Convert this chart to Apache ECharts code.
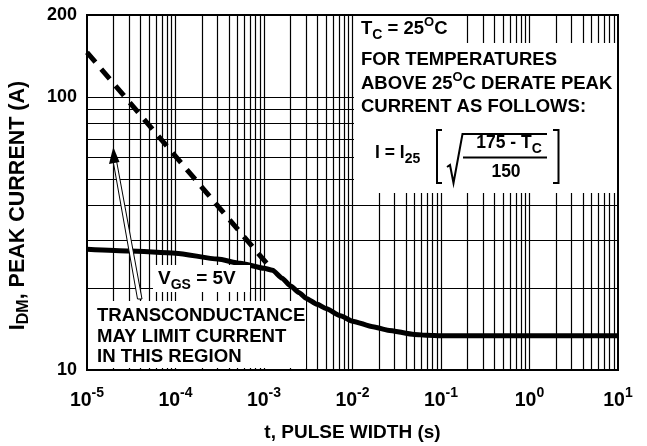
<!DOCTYPE html>
<html>
<head>
<meta charset="utf-8">
<script src="https://cdn.jsdelivr.net/npm/echarts@6/dist/echarts.min.js"></script>
<style>
html,body{margin:0;padding:0;background:#fff;}
#c{width:647px;height:446px;}
</style>
</head>
<body>
<div id="c"></div>
<script>
// ---- data ----
const xTickExps = [-5, -4, -3, -2, -1, 0, 1];
const yTickLabels = [10, 100, 200];
const xDecades = [1e-5, 1e-4, 1e-3, 1e-2, 1e-1, 1];
const gridMultipliers = [1, 2, 3, 4, 5, 6, 7, 8, 9];
const yGridValues = [20, 30, 40, 50, 60, 70, 80, 90, 100];

const solidT = [1e-5, 3e-5, 1e-4, 3e-4, 5.4e-4, 1e-3, 1.25e-3, 1.6e-3, 2e-3, 2.5e-3, 3e-3, 4e-3, 5e-3, 7.3e-3, 1e-2, 1.7e-2, 2.5e-2, 5e-2, 7e-2, 1e-1, 1, 10];
const solidI = [27.7, 27.3, 26.8, 25.5, 24.6, 23.6, 23.2, 21.7, 20.3, 19.2, 18.3, 17.4, 16.8, 15.8, 15.1, 14.4, 14.0, 13.5, 13.4, 13.35, 13.35, 13.35];
const dashedT = [1e-5, 1.25e-3];
const dashedI = [146, 23.2];

const FONT = '"Liberation Sans", Arial, Helvetica, sans-serif';

const xGridValues = [];
xDecades.forEach(d => gridMultipliers.forEach(m => {
  const v = Number((m * d).toPrecision(3));
  if (v > 1e-5 && v < 10) xGridValues.push(v);
}));

const X_MIN = 1e-5, X_MAX = 10, Y_MIN = 10, Y_MAX = 200;
const gridSegs = [];
xGridValues.forEach(v => gridSegs.push({ coords: [[v, Y_MIN], [v, Y_MAX]] }));
yGridValues.forEach(v => gridSegs.push({ coords: [[X_MIN, v], [X_MAX, v]] }));

const chart = echarts.init(document.getElementById('c'), null, { renderer: 'canvas' });

function txt(x, y, text, rich, align) {
  return {
    type: 'text', z: 70, silent: true,
    style: {
      x: x, y: y, text: text,
      fill: '#000',
      align: align || 'left',
      verticalAlign: 'middle',
      rich: rich
    }
  };
}

const richMain = (size, subSize) => ({
  n: { fontSize: size, fontWeight: 'bold', fontFamily: FONT, color: '#000', lineHeight: 26, verticalAlign: 'middle' },
  sub: { fontSize: subSize || Math.round(size * 0.75), fontWeight: 'bold', fontFamily: FONT, color: '#000', lineHeight: Math.round(size * 0.72), verticalAlign: 'bottom' },
  sup: { fontSize: Math.round(size * 0.72), fontWeight: 'bold', fontFamily: FONT, color: '#000', lineHeight: Math.round(size * 0.7), verticalAlign: 'top' }
});

const option = {
  animation: false,
  backgroundColor: '#fff',
  grid: { left: 87, right: 29, top: 15, bottom: 76, show: true, borderColor: '#000', borderWidth: 2, backgroundColor: 'transparent', containLabel: false, outerBoundsMode: 'none' },
  xAxis: {
    type: 'log', logBase: 10, min: X_MIN, max: X_MAX, interval: 1,
    axisLine: { show: false }, axisTick: { show: false }, splitLine: { show: false },
    axisLabel: {
      margin: 16, color: '#000',
      formatter: function (v) {
        const e = Math.round(Math.log10(v));
        if (xTickExps.indexOf(e) < 0) return '';
        return '{b|10}{s|' + e + '}';
      },
      rich: {
        b: { fontSize: 19.5, fontWeight: 'bold', fontFamily: FONT, color: '#000', lineHeight: 29, verticalAlign: 'middle' },
        s: { fontSize: 14, fontWeight: 'bold', fontFamily: FONT, color: '#000', lineHeight: 14, verticalAlign: 'top' }
      }
    },
    name: 't, PULSE WIDTH (s)', nameLocation: 'middle', nameGap: 53,
    nameTextStyle: { fontSize: 19, fontWeight: 'bold', fontFamily: FONT, color: '#000' }
  },
  yAxis: {
    type: 'log', logBase: 10, min: Y_MIN, max: Y_MAX, interval: 1,
    axisLine: { show: false }, axisTick: { show: false }, splitLine: { show: false },
    axisLabel: {
      margin: 10, color: '#000', fontSize: 18, fontWeight: 'bold', fontFamily: FONT,
      formatter: function (v) {
        const r = Math.round(v);
        return yTickLabels.indexOf(r) >= 0 ? String(r) : '';
      }
    },
    name: '{n|I}{sub|DM}{n|, PEAK CURRENT (A)}', nameLocation: 'middle', nameRotate: 90, nameGap: 55,
    nameTextStyle: {
      padding: [0, 26, 0, 0],
      rich: {
        n: { fontSize: 21.5, fontWeight: 'bold', fontFamily: FONT, color: '#000', lineHeight: 28, verticalAlign: 'middle' },
        sub: { fontSize: 16, fontWeight: 'bold', fontFamily: FONT, color: '#000', lineHeight: 16, verticalAlign: 'bottom' }
      }
    }
  },
  series: [
    {
      type: 'lines', name: 'grid', coordinateSystem: 'cartesian2d', z: 1, silent: true,
      polyline: false, symbol: ['none', 'none'],
      lineStyle: { color: '#000', width: 1.2, opacity: 1, curveness: 0 },
      data: gridSegs
    },
    {
      type: 'line', name: 'limit', z: 5, symbol: 'none', silent: true,
      data: dashedT.map((t, i) => [t, dashedI[i]]),
      lineStyle: { color: '#000', width: 5, type: [13, 9], cap: 'butt' }
    },
    {
      type: 'line', name: 'VGS=5V', z: 5, symbol: 'none', silent: true, smooth: 0.2, smoothMonotone: 'x',
      data: solidT.map((t, i) => [t, solidI[i]]),
      lineStyle: { color: '#000', width: 5 }
    }
  ],
  graphic: [
    // white text backgrounds
    { type: 'rect', z: 50, silent: true, shape: { x: 354, y: 16, width: 111, height: 27 }, style: { fill: '#fff' } },
    { type: 'rect', z: 50, silent: true, shape: { x: 354, y: 43, width: 263, height: 150 }, style: { fill: '#fff' } },
    { type: 'rect', z: 50, silent: true, shape: { x: 153, y: 265, width: 97, height: 27 }, style: { fill: '#fff' } },
    { type: 'rect', z: 50, silent: true, shape: { x: 88, y: 301, width: 218, height: 67 }, style: { fill: '#fff' } },
    // upper right note
    txt(361, 29, '{n|T}{sub|C}{n| = 25}{sup|O}{n|C}', richMain(18.5)),
    txt(361, 60, '{n|FOR TEMPERATURES}', richMain(18.5)),
    txt(361, 84, '{n|ABOVE 25}{sup|O}{n|C DERATE PEAK}', richMain(18.5)),
    txt(361, 107, '{n|CURRENT AS FOLLOWS:}', richMain(18.5)),
    txt(375, 153, '{n|I = I}{sub|25}', richMain(17.5, 14)),
    txt(509, 143, '{n|175 - T}{sub|C}', richMain(17.5, 14), 'center'),
    txt(506, 172, '{n|150}', richMain(17.5), 'center'),
    { type: 'polyline', z: 70, silent: true, shape: { points: [[442, 130], [437, 130], [437, 183], [442, 183]] }, style: { stroke: '#000', lineWidth: 2, fill: null } },
    { type: 'polyline', z: 70, silent: true, shape: { points: [[553, 130], [558.5, 130], [558.5, 183], [553, 183]] }, style: { stroke: '#000', lineWidth: 2, fill: null } },
    { type: 'polyline', z: 70, silent: true, shape: { points: [[447, 167], [450, 165], [453.5, 183], [462.5, 134], [547, 134]] }, style: { stroke: '#000', lineWidth: 2, fill: null } },
    { type: 'line', z: 70, silent: true, shape: { x1: 463, y1: 157.5, x2: 547, y2: 157.5 }, style: { stroke: '#000', lineWidth: 2 } },
    // VGS label
    txt(158, 279, '{n|V}{sub|GS}{n| = 5V}', richMain(19)),
    // lower-left note
    txt(97, 316, '{n|TRANSCONDUCTANCE}', richMain(18.6)),
    txt(97, 337, '{n|MAY LIMIT CURRENT}', richMain(18.6)),
    txt(97, 357, '{n|IN THIS REGION}', richMain(18.6)),
    // arrow
    { type: 'polygon', z: 60, silent: true, shape: { points: [[112.6, 158], [116, 158], [142, 299], [137.5, 299]] }, style: { fill: '#fff', stroke: '#000', lineWidth: 1 } },
    { type: 'polygon', z: 61, silent: true, shape: { points: [[113.3, 147], [109, 164], [119.5, 162]] }, style: { fill: '#000' } }
  ]
};

chart.setOption(option);
</script>
</body>
</html>
